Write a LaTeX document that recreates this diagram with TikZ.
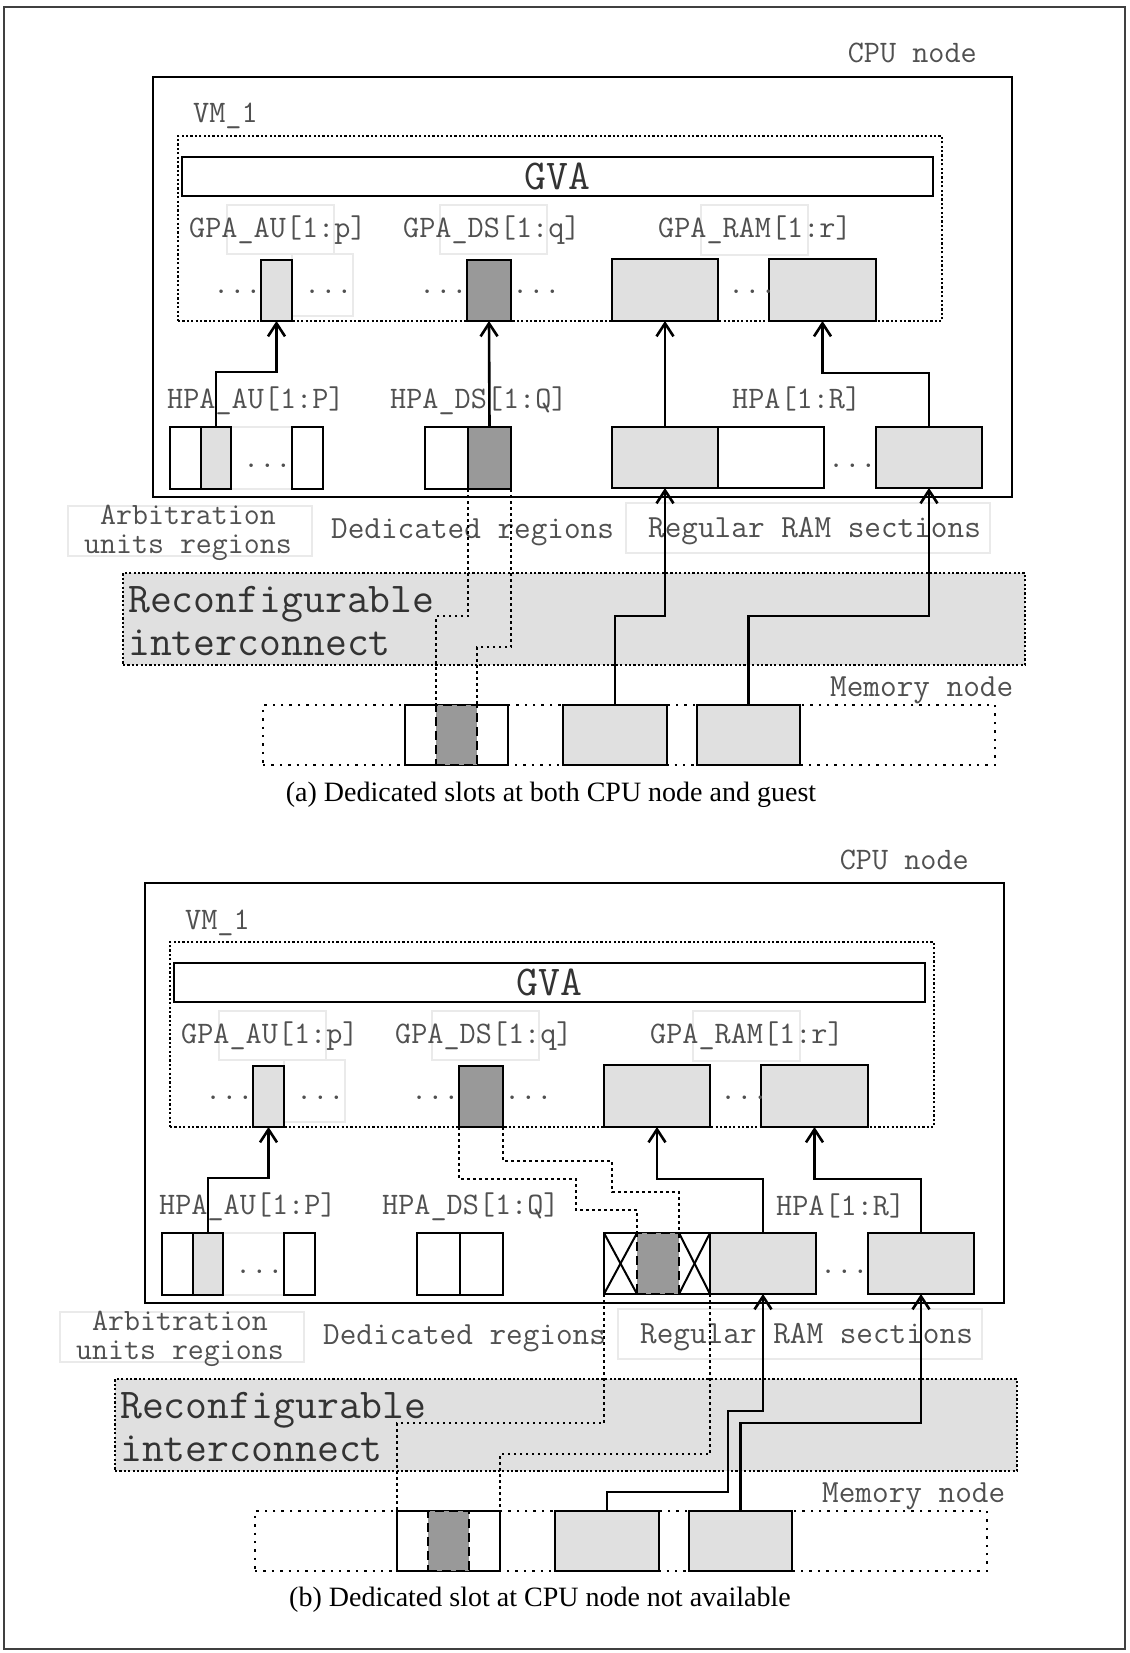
\documentclass[tikz,border=0pt]{standalone}
\usepackage{fontspec}
\setmainfont{Liberation Serif}
\usetikzlibrary{arrows.meta,fit,calc}
\definecolor{lightg}{HTML}{E0E0E0}
\definecolor{darkg}{HTML}{999999}
\definecolor{labelc}{HTML}{505050}
\definecolor{bigc}{HTML}{333333}
\definecolor{faintc}{HTML}{EAEAEA}
\newcommand{\lbfont}{\ttfamily\fontsize{31.3}{34}\selectfont}
\newcommand{\lbbfont}{\ttfamily\fontsize{32.3}{28}\selectfont}
\newcommand{\arbfont}{\ttfamily\fontsize{31}{29}\selectfont}
\newcommand{\bgfont}{\ttfamily\fontsize{42.5}{46}\selectfont}
\newcommand{\capfont}{\rmfamily\fontsize{28}{32}\selectfont}
\tikzset{
  box/.style={draw=black, line width=2.8pt, inner sep=0pt, outer sep=0pt},
  faintbox/.style={draw=faintc, line width=1.2pt, inner sep=0pt, outer sep=0pt},
  vmbox/.style={draw=black, line width=2.2pt, dash pattern=on 2.2pt off 2.2pt, inner sep=0pt, outer sep=0pt},
  membox/.style={draw=black, line width=2.4pt, dash pattern=on 2.4pt off 6pt, inner sep=0pt, outer sep=0pt},
  dashbox/.style={draw=black, line width=2.8pt, dash pattern=on 9pt off 5pt, inner sep=0pt, outer sep=0pt, fill=darkg},
  dotl/.style={line width=2.5pt, dash pattern=on 2.5pt off 3.5pt},
  xl/.style={line width=2pt},
  arr/.style={line width=2.6pt, -{Straight Barb[length=13pt,width=17pt]}},
  lbl/.style={font=\lbfont, text=labelc, inner sep=0pt, anchor=base west},
  lblb/.style={font=\lbbfont, text=labelc, inner sep=0pt, anchor=base west},
  lblc/.style={font=\arbfont, text=labelc, inner sep=0pt, anchor=base},
  bgl/.style={font=\bgfont, text=bigc, inner sep=0pt, anchor=base west},
}
\newcommand{\commonpanel}[1]{%
  % faint helper boxes
  \node[faintbox,fit={(227,205)(334,254)}] (#1f1) {};
  \node[faintbox,fit={(292,254)(353,316)}] (#1f2) {};
  \node[faintbox,fit={(440,205)(547,254)}] (#1f3) {};
  \node[faintbox,fit={(701,205)(808,255)}] (#1f4) {};
  \node[faintbox,fit={(231,427)(292,489)}] (#1f5) {};
  \node[faintbox,fit={(68,506)(312,556)}] (#1f6) {};
  \node[faintbox,fit={(626,503)(990,553)}] (#1f7) {};
  % reconfigurable interconnect
  \node[vmbox,fill=lightg,fit={(123,573)(1025,665)}] (#1rec) {};
  \node[bgl] (#1rect1) at (128,612) {Reconfigurable};
  \node[bgl] (#1rect2) at (128,655) {interconnect};
  % CPU node
  \node[box,fit={(153,77)(1012,497)}] (#1cpu) {};
  \node[lbl,anchor=base east] (#1cpul) at (977,63) {CPU node};
  \node[lbl] (#1vml) at (193,123) {VM\_1};
  \node[vmbox,fit={(178,136)(942,321)}] (#1vm) {};
  \node[box,fill=white,fit={(182,157)(933,196)}] (#1gva) {};
  \node[font=\bgfont,text=bigc,inner sep=0pt] (#1gvat) at (#1gva.center) {GVA};
  \node[lbl] (#1lgau) at (189,237) {GPA\_AU[1:p]};
  \node[lbl] (#1lgds) at (403,237) {GPA\_DS[1:q]};
  \node[lbl] (#1lgram) at (658,237) {GPA\_RAM[1:r]};
  % guest boxes
  \node[box,fill=lightg,fit={(261,260)(292,321)}] (#1gau) {};
  \node[box,fill=darkg,fit={(467,260)(511,321)}] (#1gds) {};
  \node[box,fill=lightg,fit={(612,259)(718,321)}] (#1gr1) {};
  \node[box,fill=lightg,fit={(769,259)(876,321)}] (#1gr2) {};
  \node[lbl] (#1d1) at (213,293) {...};
  \node[lbl] (#1d2) at (304,293) {...};
  \node[lbl] (#1d3) at (419,293) {...};
  \node[lbl] (#1d4) at (512,293) {...};
  \node[lbl] (#1d5) at (728,293) {...};
  % host labels
  \node[lbl] (#1lhau) at (167,408) {HPA\_AU[1:P]};
  \node[lbl] (#1lhds) at (390,408) {HPA\_DS[1:Q]};
  % host AU boxes
  \node[box,fill=white,fit={(170,427)(201,489)}] (#1hau1) {};
  \node[box,fill=lightg,fit={(201,427)(231,489)}] (#1hau2) {};
  \node[lbl] (#1d6) at (243,467) {...};
  \node[box,fill=white,fit={(292,427)(323,489)}] (#1hau3) {};
  \node[box,fill=white,fit={(425,427)(468,489)}] (#1hds1) {};
  \node[lbl] (#1d7) at (828,467) {...};
  \node[box,fill=lightg,fit={(876,427)(982,488)}] (#1hr3) {};
  % bottom labels
  \node[lblc] (#1arb1) at (188,524) {Arbitration};
  \node[lblc] (#1arb2) at (188,553) {units regions};
  \node[lblb] (#1ded) at (331,538) {Dedicated regions};
  \node[lblb] (#1reg) at (648,537) {Regular RAM sections};
  \node[lblb] (#1meml) at (830,696) {Memory node};
  % memory node
  \node[membox,fit={(263,705)(995,765)}] (#1mem) {};
  \node[box,fill=white,fit={(405,705)(508,765)}] (#1mds) {};
  \node[dashbox,fit={(436,705)(477,765)}] (#1mdsin) {};
  \node[box,fill=lightg,fit={(563,705)(667,765)}] (#1m1) {};
  \node[box,fill=lightg,fit={(697,705)(800,765)}] (#1m2) {};
  % AU arrow
  \draw[arr] (#1hau2.north) -- ++(0,-55) -| (#1gau.south);
}
\begin{document}
\begin{tikzpicture}[x=1pt,y=-1pt]
\useasboundingbox (0,0) rectangle (1129,1653);
\fill[white] (0,0) rectangle (1129,1653);
\node[draw=black!75,line width=1.2pt,inner sep=0pt,fit={(4,7)(1125,1649)}] (frame) {};

% ---------------- panel (a) ----------------
\begin{scope}
\commonpanel{a}
\node[box,fill=darkg,fit={(468,427)(511,489)}] (ahds2) {};
\node[box,fill=lightg,fit={(612,427)(718,488)}] (ahr1) {};
\node[box,fill=white,fit={(718,427)(824,488)}] (ahr2) {};
\node[lbl] (alhr) at (732,408) {HPA[1:R]};
\draw[arr] (ahds2.north) -- (agds.south);
\draw[arr] (ahr1.north) -- (agr1.south);
\draw[arr] (ahr3.north) -- ++(0,-54) -| (agr2.south);
\draw[arr] (am1.north) -- ++(0,-89) -| (ahr1.south);
\draw[arr] (am2.north) -- ++(0,-89) -| (ahr3.south);
\draw[dotl] (ahds2.south west) -- ++(0,127) -| (amdsin.north west);
\draw[dotl] (ahds2.south east) -- ++(0,158) -| (amdsin.north east);
\end{scope}
\node[font=\capfont,inner sep=0pt] (capa) at (551,795) {(a) Dedicated slots at both CPU node and guest};

% ---------------- panel (b) ----------------
\begin{scope}[shift={(-8,806)}]
\commonpanel{b}
\node[box,fill=white,fit={(468,427)(511,489)}] (bhds2) {};
\node[box,fill=white,fit={(612,427)(718,488)}] (bhr1) {};
\node[box,fill=lightg,fit={(718,427)(824,488)}] (bhr2) {};
\node[lbl] (blhr) at (784,409) {HPA[1:R]};
\draw[xl] (bhr1.north west) -- (645,488);
\draw[xl] (bhr1.south west) -- (645,427);
\draw[xl] (687,427) -- (bhr1.south east);
\draw[xl] (687,488) -- (bhr1.north east);
\node[dashbox,fit={(645,427)(687,488)}] (bxin) {};
\draw[arr] (bhr2.north) -- ++(0,-54) -| (bgr1.south);
\draw[arr] (bhr3.north) -- ++(0,-54) -| (bgr2.south);
\draw[arr] (bm1.north) -- ++(0,-19) -- ++(121,0) -- ++(0,-81) -| (bhr2.south);
\draw[arr] (bm2.north) -- ++(0,-88) -| (bhr3.south);
\draw[dotl] (bgds.south west) -- ++(0,52) -- ++(117,0) -- ++(0,31) -| (bxin.north west);
\draw[dotl] (bgds.south east) -- ++(0,34) -- ++(109,0) -- ++(0,31) -| (bxin.north east);
\draw[dotl] (bhr1.south west) -- ++(0,129) -| (bmds.north west);
\draw[dotl] (bhr1.south east) -- ++(0,160) -| (bmds.north east);
\end{scope}
\node[font=\capfont,inner sep=0pt] (capb) at (540,1600) {(b) Dedicated slot at CPU node not available};
\end{tikzpicture}
\end{document}
